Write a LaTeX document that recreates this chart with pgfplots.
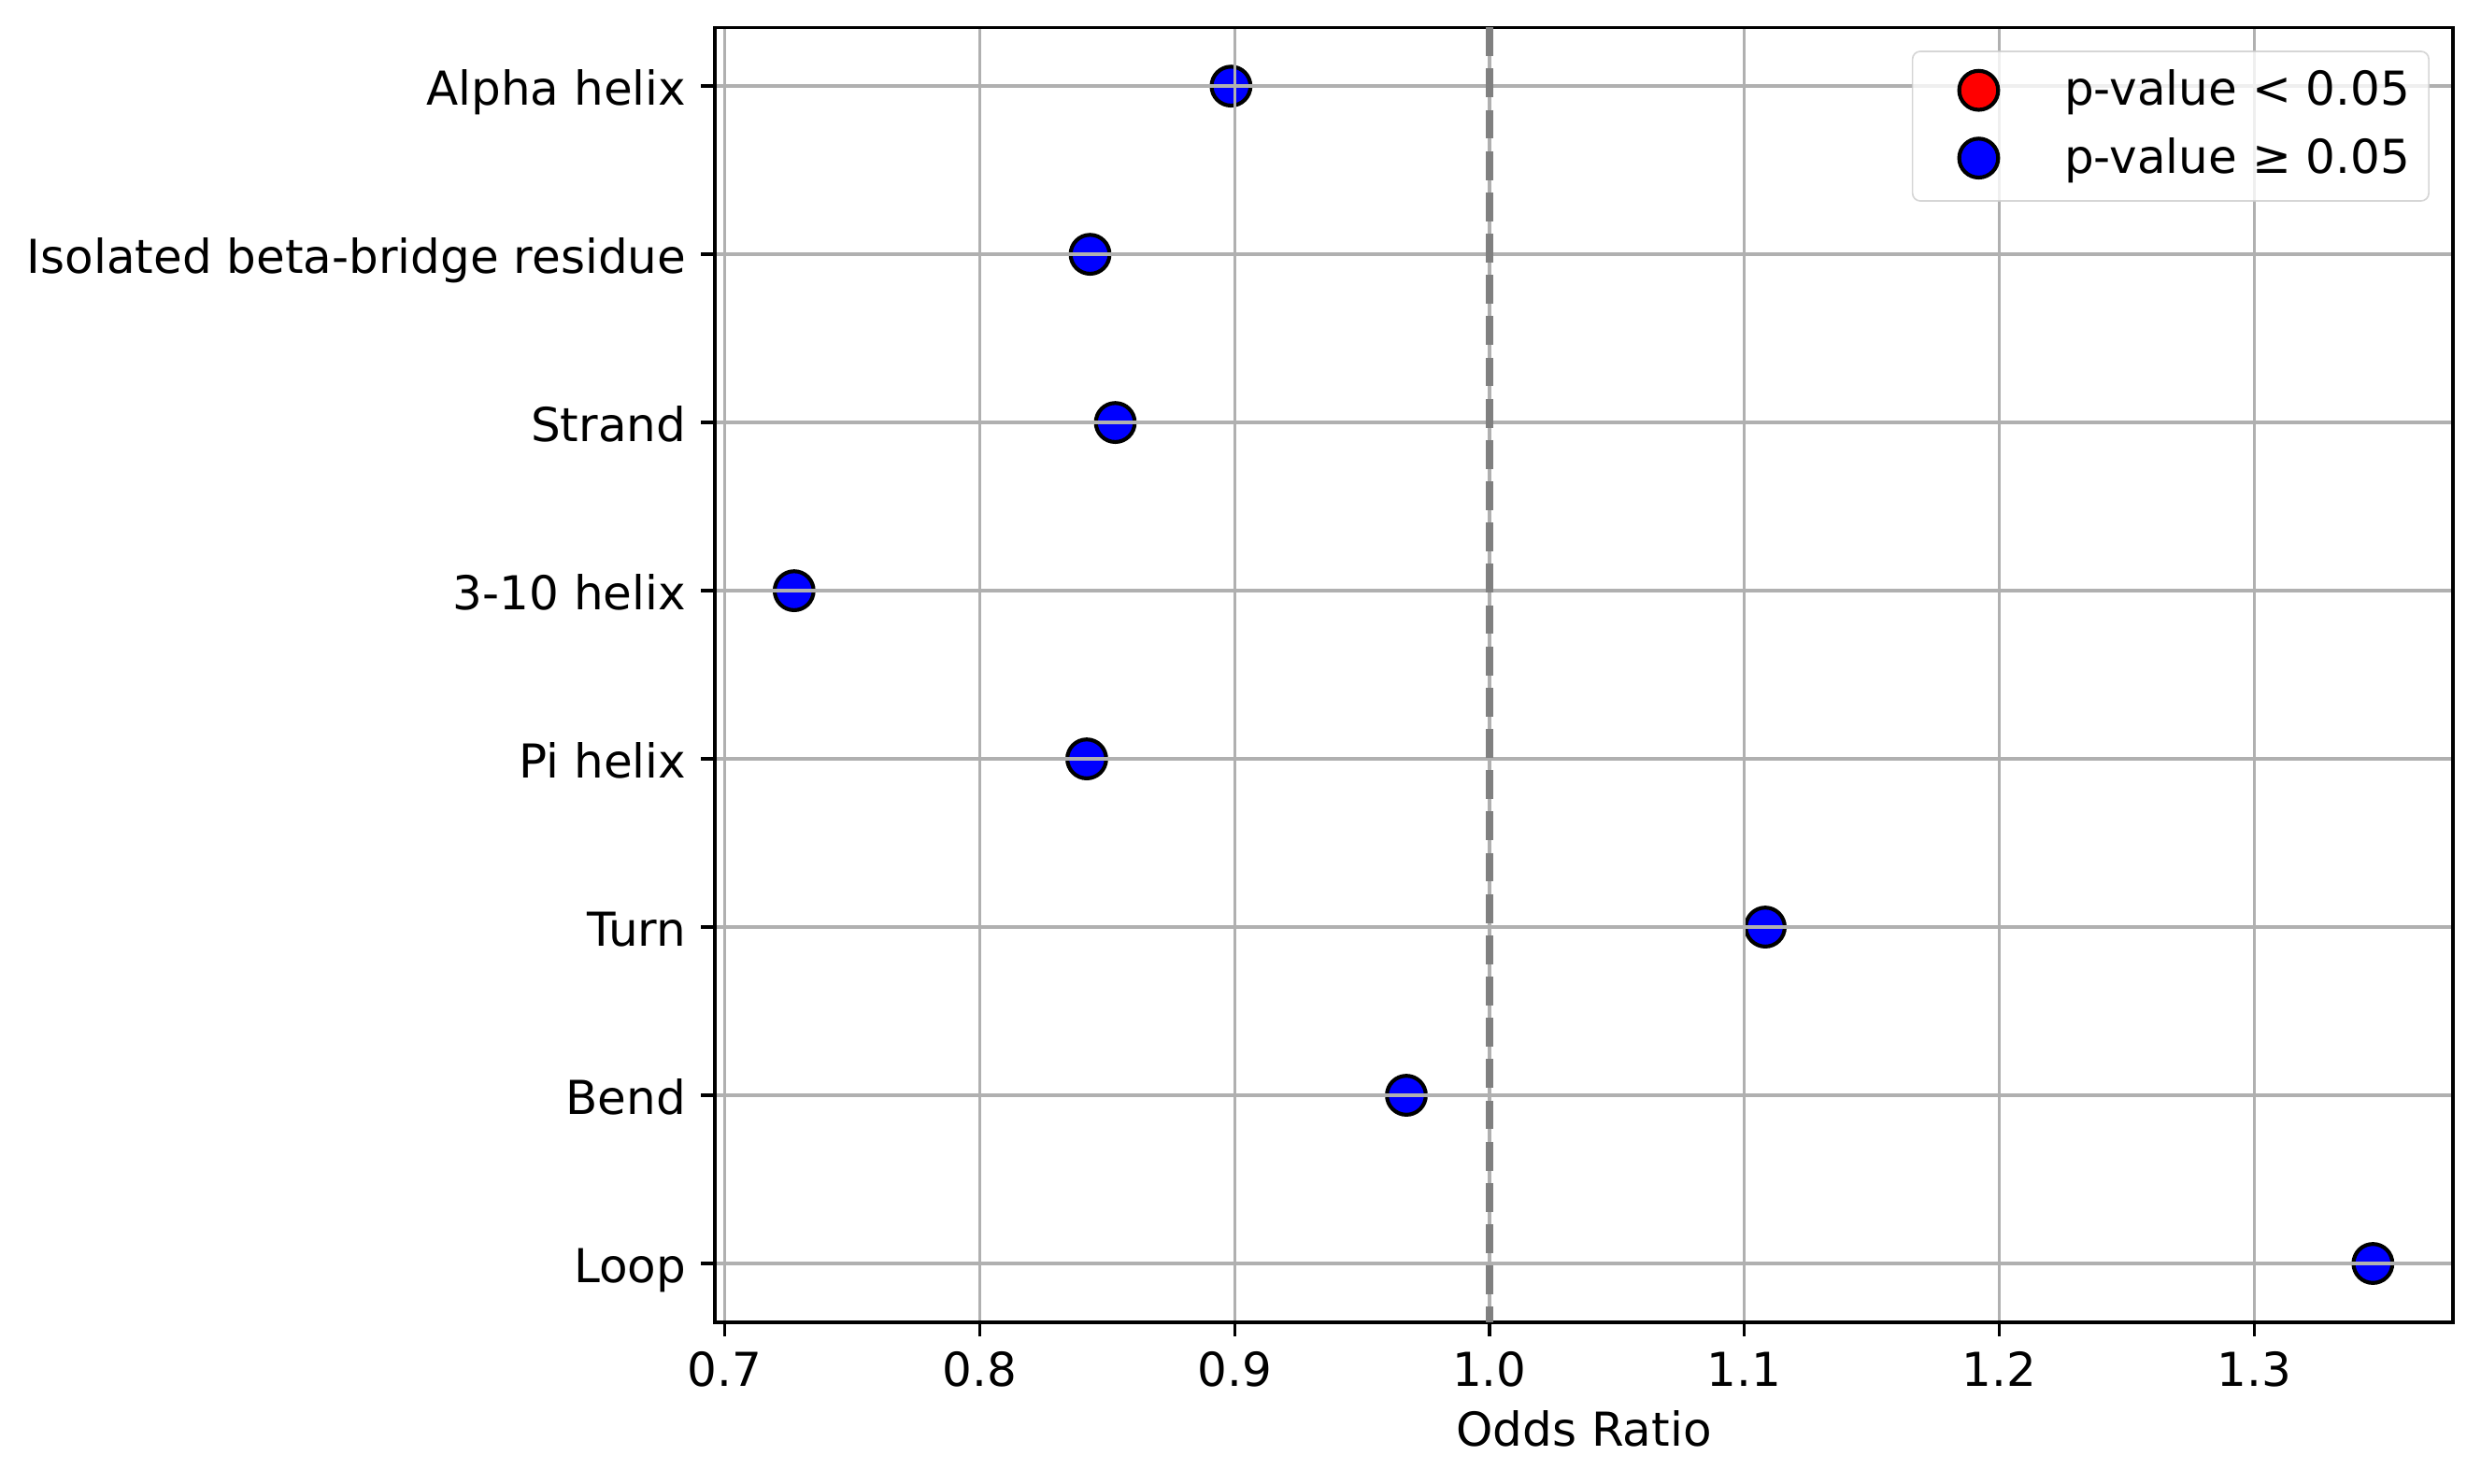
\documentclass[border=0pt]{standalone}
\usepackage{pgfplots}
\pgfplotsset{compat=1.18}
\usepackage{fontspec}
\setmainfont{DejaVu Sans}
\definecolor{gridgray}{HTML}{B0B0B0}
\definecolor{legframe}{HTML}{CCCCCC}
\begin{document}
\begin{tikzpicture}
\begin{axis}[
  at={(0,0)}, anchor=south west,
  width=446.4pt, height=332.6pt, scale only axis,
  xmin=0.6961, xmax=1.378,
  ymin=-0.35, ymax=7.35, y dir=reverse,
  xtick={0.7,0.8,...,1.31},
  xticklabels={0.7,0.8,0.9,1.0,1.1,1.2,1.3},
  ytick={0,1,2,3,4,5,6,7},
  yticklabels={Alpha helix,Isolated beta-bridge residue,Strand,3-10 helix,Pi helix,Turn,Bend,Loop},
  tick align=outside,
  tick pos=left,
  major tick length=3.5pt,
  every tick/.style={black, line width=0.8pt},
  axis line style={line width=0.8pt},
  grid=major,
  major grid style={gridgray, line width=0.8pt},
  axis on top,
  set layers,
  /pgf/number format/assume math mode=true,
  tick label style={font=\fontsize{12}{14.4}\selectfont, inner sep=0pt},
  xticklabel style={anchor=base, yshift=-12.9pt},
  yticklabel style={anchor=base east, xshift=-3.7pt, yshift=-4.8pt},
  xlabel={Odds Ratio},
  xlabel style={at={(axis description cs:0.5,0)}, anchor=base, inner sep=0pt, yshift=-31.9pt, font=\fontsize{12}{14.4}\selectfont},
  legend style={at={(1,1)}, anchor=north east, xshift=-6pt, yshift=-6pt,
    draw=legframe, fill=white, fill opacity=0.8, draw opacity=0.8, text opacity=1,
    rounded corners=2pt, inner xsep=4.8pt, inner ysep=1.8pt,
    nodes={inner sep=0pt},
    font=\fontsize{12}{14.4}\selectfont,
    row sep=0pt, column sep=0pt},
  legend cell align=left,
]
\addplot[only marks, mark=*, mark size=5pt, mark options={fill=blue, draw=black, line width=1pt}, forget plot]
  coordinates {
  (0.8986,0)
  (0.8433,1)
  (0.8532,2)
  (0.7272,3)
  (0.8420,4)
  (1.1082,5)
  (0.9674,6)
  (1.3466,7)
  };
\addplot[color=gray, line width=2pt, dash pattern=on 7.4pt off 3.2pt, forget plot, on layer=axis foreground]
  coordinates {(1,-0.35) (1,7.35)};
\addlegendimage{legend image code/.code={\path[draw=none, fill=none] (0pt,-9.2pt) rectangle (34.2pt,8.2pt); \draw[fill=red, draw=black, line width=1pt, fill opacity=1, draw opacity=1, sharp corners] (12.2pt,0pt) circle (5pt);}}
\addlegendentry{p-value < 0.05}
\addlegendimage{legend image code/.code={\path[draw=none, fill=none] (0pt,-9.2pt) rectangle (34.2pt,8.2pt); \draw[fill=blue, draw=black, line width=1pt, fill opacity=1, draw opacity=1, sharp corners] (12.2pt,0pt) circle (5pt);}}
\addlegendentry{p-value ≥ 0.05}
\end{axis}
\pgfresetboundingbox
\path[use as bounding box] (-183.6pt,-41.3pt) rectangle (453.6pt,339.6pt);
\end{tikzpicture}
\end{document}
